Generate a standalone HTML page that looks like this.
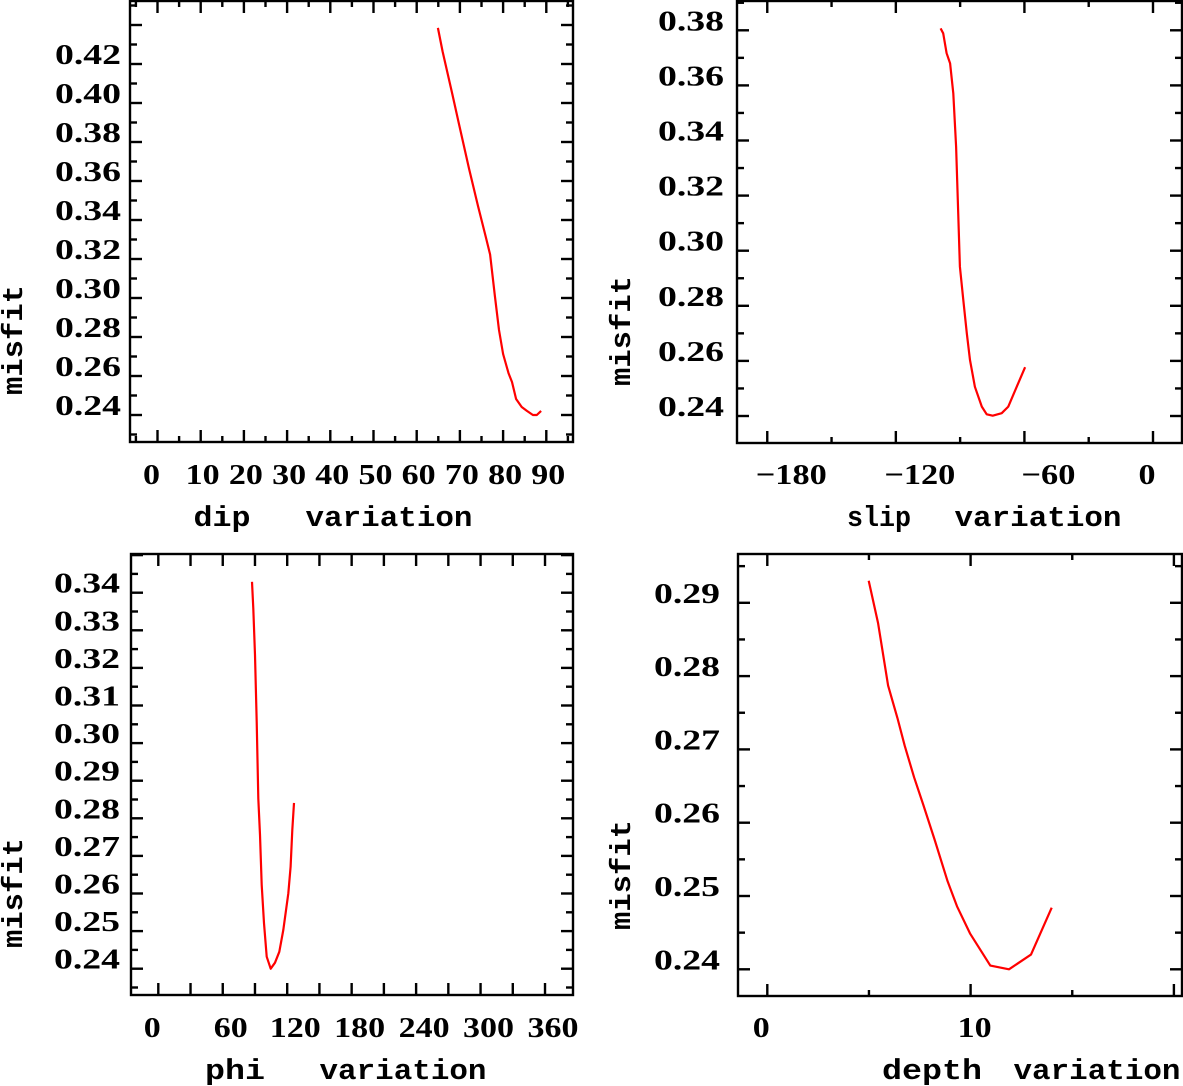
<!DOCTYPE html>
<html><head><meta charset="utf-8">
<style>
html,body{margin:0;padding:0;background:#fff;}
svg{display:block;}
text{font-family:"Liberation Serif","DejaVu Serif",serif;font-weight:bold;fill:#000;}
text.ttl{font-family:"Liberation Mono","DejaVu Sans Mono",monospace;}
</style></head>
<body>
<svg id="chart" width="1183" height="1086" viewBox="0 0 1183 1086" xmlns="http://www.w3.org/2000/svg"></svg>
<script>
// ---- data ----
const dipX = [64.9,66.0,68.2,69.8,72.1,74.2,76.0,77.0,78.1,79.05,80.0,81.25,82.05,83.0,84.3,85.5,86.9,87.8,88.8];
const dipY = [0.4385,0.4264,0.4051,0.3892,0.3664,0.3472,0.3313,0.3223,0.3010,0.2836,0.2713,0.2615,0.2569,0.2482,0.2441,0.2421,0.2400,0.2400,0.2421];
const slipX = [-99.1,-97.9,-96.3,-94.7,-93.2,-91.9,-91.1,-90.1,-88.5,-86.9,-85.4,-83.1,-79.9,-77.6,-74.8,-70.6,-67.5,-63.6,-59.7];
const slipY = [0.3807,0.3789,0.3717,0.3680,0.3571,0.3378,0.3184,0.2942,0.2821,0.2700,0.2603,0.2506,0.2434,0.2406,0.2401,0.2410,0.2434,0.2506,0.2577];
const phiX = [87.2,88.4,90.0,91.6,93.1,94.7,96.3,98.4,100.9,104.6,108.6,112.6,116.4,121.0,123.2,124.7,126.3];
const phiY = [0.3429,0.3358,0.3234,0.3057,0.2853,0.2756,0.2623,0.2521,0.2432,0.2400,0.2416,0.2445,0.2503,0.2600,0.2671,0.2769,0.2841];
const depthX = [4.99,5.45,5.94,6.4,6.76,7.22,7.68,8.23,8.87,9.33,9.97,10.97,11.89,12.97,13.99];
const depthY = [0.2930,0.2872,0.2787,0.2743,0.2705,0.2662,0.2624,0.2577,0.2520,0.2486,0.2449,0.2405,0.2400,0.2420,0.2484];

const dipXTicks = [0,10,20,30,40,50,60,70,80,90];
const dipYTicks = [0.24,0.26,0.28,0.30,0.32,0.34,0.36,0.38,0.40,0.42];
const slipXTicks = [-180,-120,-60,0];
const slipYTicks = [0.24,0.26,0.28,0.30,0.32,0.34,0.36,0.38];
const phiXTicks = [0,60,120,180,240,300,360];
const phiYTicks = [0.24,0.25,0.26,0.27,0.28,0.29,0.30,0.31,0.32,0.33,0.34];
const depthXTicks = [0,10];
const depthYTicks = [0.24,0.25,0.26,0.27,0.28,0.29];

const NS = "http://www.w3.org/2000/svg";
const svg = document.getElementById("chart");
function el(tag, attrs, parent){
  const e = document.createElementNS(NS, tag);
  for (const k in attrs) e.setAttribute(k, attrs[k]);
  (parent||svg).appendChild(e);
  return e;
}

const panels = [
 {key:"dip", L:130,R:573,T:1,B:442, x0:157.5,xs:4.32, y0:415,ys:1950,
  xs_data:dipX, ys_data:dipY, xt:dipXTicks, yt:dipYTicks, xMinor:5, xMajor:10, yMinor:0.01, yMajor:0.02,
  lblOff:2, xlabY:484, title:"dip", titleX:222, titleW:57, varX:389, titleY:526, misX:22, misY:340, yLabR:121},
 {key:"slip", L:737,R:1182,T:1,B:443, x0:1153,xs:2.143, y0:416,ys:2755,
  xs_data:slipX, ys_data:slipY, xt:slipXTicks, yt:slipYTicks, xMinor:30, xMajor:60, yMinor:0.01, yMajor:0.02,
  lblOff:24, xlabY:484, title:"slip", titleX:879, titleW:64, varX:1038, titleY:526, misX:630, misY:331, yLabR:724},
 {key:"phi", L:131,R:573,T:554,B:995, x0:158.3,xs:1.0742, y0:968.7,ys:3760,
  xs_data:phiX, ys_data:phiY, xt:phiXTicks, yt:phiYTicks, xMinor:30, xMajor:30, yMinor:0.005, yMajor:0.01,
  lblOff:8, xlabY:1037, title:"phi", titleX:235, titleW:60, varX:403, titleY:1079, misX:22, misY:893, yLabR:120},
 {key:"depth", L:738,R:1182,T:554,B:996, x0:767.3,xs:20.33, y0:969.3,ys:7330,
  xs_data:depthX, ys_data:depthY, xt:depthXTicks, yt:depthYTicks, xMinor:5, xMajor:10, yMinor:0.005, yMajor:0.01,
  lblOff:4, xlabY:1037, title:"depth", titleX:932, titleW:100, varX:1097, titleY:1079, misX:630, misY:875, yLabR:720}
];

panels.forEach(p=>{
  const g = el("g",{});
  
  
  const X = v => p.x0 + v*p.xs;
  const Y = v => p.y0 - (v-0.24)*p.ys;
  const dMin = (p.L-p.x0)/p.xs, dMax = (p.R-p.x0)/p.xs;
  const yMin = 0.24 + (p.y0-p.B)/p.ys, yMax = 0.24 + (p.y0-p.T)/p.ys;
  const fr = el("rect",{x:p.L,y:p.T,width:p.R-p.L,height:p.B-p.T,fill:"none",stroke:"#000","stroke-width":2.4},g);
  
  
  const tg = el("g",{stroke:"#000","stroke-width":2.4},g);
  
  
  for (let v=Math.ceil(dMin/p.xMinor)*p.xMinor; v<=dMax+1e-9; v+=p.xMinor){
    const major = Math.abs(v/p.xMajor - Math.round(v/p.xMajor))<1e-6;
    const len = major?12:6, x=X(v);
    el("line",{x1:x,y1:p.B,x2:x,y2:p.B-len},tg);
    el("line",{x1:x,y1:p.T,x2:x,y2:p.T+len},tg);
  }
  for (let v=Math.ceil((yMin-1e-9)/p.yMinor)*p.yMinor; v<=yMax+1e-9; v+=p.yMinor){
    const major = Math.abs(v/p.yMajor - Math.round(v/p.yMajor))<1e-4;
    const len = major?12:7, y=Y(v);
    el("line",{x1:p.L,y1:y,x2:p.L+len,y2:y},tg);
    el("line",{x1:p.R,y1:y,x2:p.R-len,y2:y},tg);
  }
  p.xt.forEach(v=>{
    const s = v<0 ? "\u2212"+Math.abs(v) : String(v);
    const w = (v<0 ? 20 : 0) + String(Math.abs(v)).length*17;
    const t = el("text",{x:X(v)+(v===0?-6:p.lblOff),y:p.xlabY,"font-size":29,"text-anchor":"middle",textLength:w,lengthAdjust:"spacingAndGlyphs"},g);
    t.textContent = s;
    
    
  });
  p.yt.forEach(v=>{
    const t = el("text",{x:p.yLabR,y:Y(v),"font-size":28,"text-anchor":"end",textLength:66,lengthAdjust:"spacingAndGlyphs"},g);
    t.textContent = v.toFixed(2);
    
    
  });
  const t1 = el("text",{class:"ttl",x:p.titleX,y:p.titleY,"font-size":29,"text-anchor":"middle",textLength:p.titleW,lengthAdjust:"spacingAndGlyphs"},g);
  t1.textContent = p.title;
  
  
  const t2 = el("text",{class:"ttl",x:p.varX,y:p.titleY,"font-size":29,"text-anchor":"middle",textLength:167,lengthAdjust:"spacingAndGlyphs"},g);
  t2.textContent = "variation";
  
  
  const t3 = el("text",{class:"ttl",x:0,y:0,"font-size":29,"text-anchor":"middle",textLength:110,lengthAdjust:"spacingAndGlyphs",transform:`translate(${p.misX},${p.misY}) rotate(-90)`},g);
  t3.textContent = "misfit";
  
  
  const pts = p.xs_data.map((v,i)=>X(v).toFixed(1)+","+Y(p.ys_data[i]).toFixed(1)).join(" ");
  const line = el("polyline",{points:pts,fill:"none",stroke:"#ff0000","stroke-width":2.2,"stroke-linejoin":"round"},g);
  
  
});
</script>
</body></html>
